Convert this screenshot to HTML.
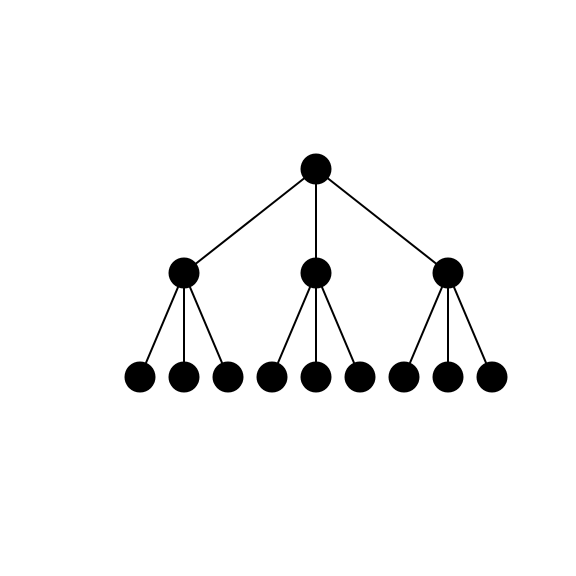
<!DOCTYPE html>
<html>
<head>
<meta charset="utf-8">
<style>
  html, body { margin: 0; padding: 0; background: #fff; }
  svg { display: block; }
</style>
</head>
<body>
<svg id="chart" width="576" height="576" viewBox="0 0 576 576">
  <rect width="576" height="576" fill="#fff"></rect>
  <g id="edges"></g>
  <g id="nodes"></g>
</svg>
<script>
// Tree data: node depths and parent indices (-1 = root)
const nodeNames = ["root", "a", "b", "c", "a1", "a2", "a3", "b1", "b2", "b3", "c1", "c2", "c3"];
const nodeParents = [-1, 0, 0, 0, 1, 1, 1, 2, 2, 2, 3, 3, 3];
const nodeDepths = [0, 1, 1, 1, 2, 2, 2, 2, 2, 2, 2, 2, 2];

// Axis functions
const leafStart = 140, leafStep = 44;
const yTop = 169, levelStep = 104;
function yScale(depth) { return yTop + depth * levelStep; }

// Compute x positions: leaves evenly spaced, parents centered over children
const xs = new Array(nodeNames.length);
let leafIndex = 0;
function layout(i) {
  const kids = [];
  for (let j = 0; j < nodeParents.length; j++) if (nodeParents[j] === i) kids.push(j);
  if (kids.length === 0) { xs[i] = leafStart + leafStep * leafIndex++; return; }
  kids.forEach(layout);
  xs[i] = (xs[kids[0]] + xs[kids[kids.length - 1]]) / 2;
}
layout(nodeParents.indexOf(-1));

const NS = "http://www.w3.org/2000/svg";
const edgesG = document.getElementById("edges");
const nodesG = document.getElementById("nodes");

for (let i = 0; i < nodeNames.length; i++) {
  const p = nodeParents[i];
  if (p < 0) continue;
  const line = document.createElementNS(NS, "line");
  line.setAttribute("x1", xs[p]);
  line.setAttribute("y1", yScale(nodeDepths[p]));
  line.setAttribute("x2", xs[i]);
  line.setAttribute("y2", yScale(nodeDepths[i]));
  line.setAttribute("stroke", "#000");
  line.setAttribute("stroke-width", "2");
  
  
  edgesG.appendChild(line);
}
for (let i = 0; i < nodeNames.length; i++) {
  const c = document.createElementNS(NS, "circle");
  c.setAttribute("cx", xs[i]);
  c.setAttribute("cy", yScale(nodeDepths[i]));
  c.setAttribute("r", "15.5");
  c.setAttribute("fill", "#000");
  
  
  nodesG.appendChild(c);
}
</script>
</body>
</html>
